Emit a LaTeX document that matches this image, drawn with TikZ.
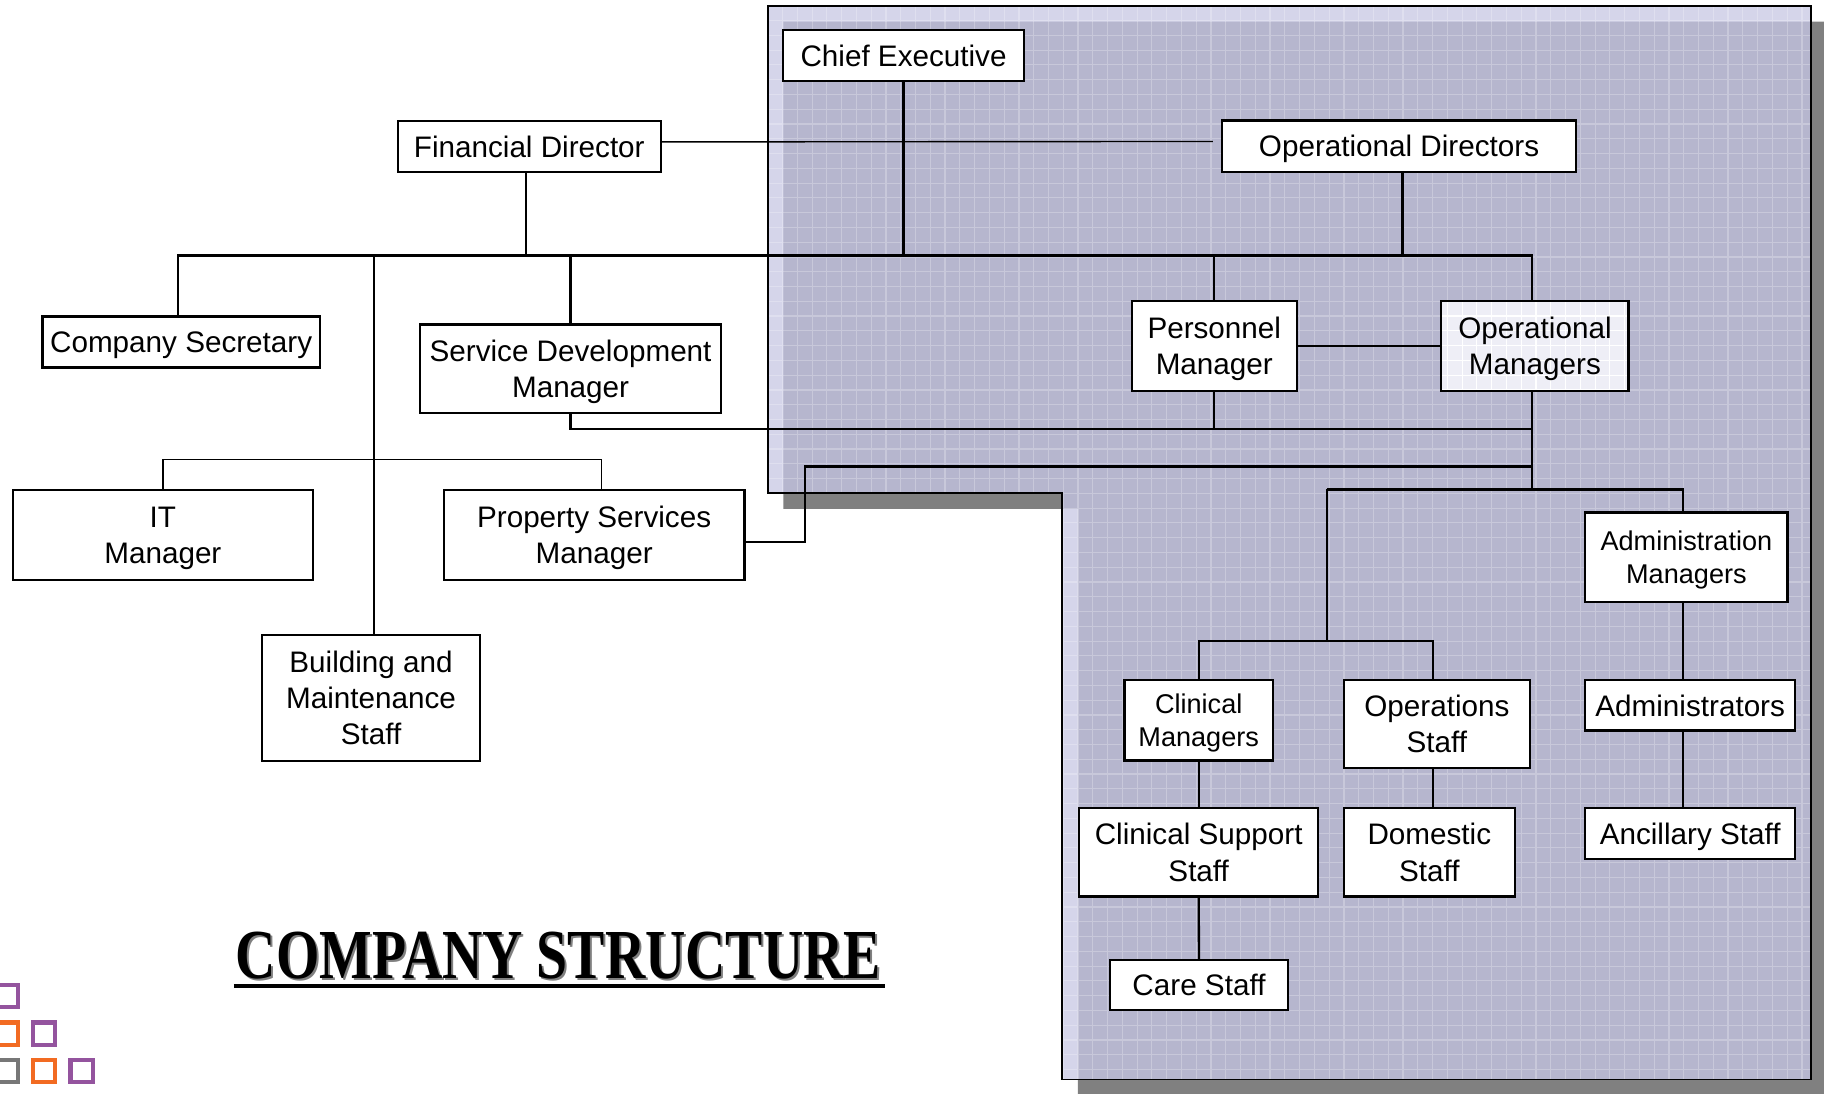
\documentclass[tikz,border=0pt]{standalone}
\usepackage{fontspec}
\setmainfont{Liberation Sans}
\newfontfamily\titlefont{Liberation Serif}
\definecolor{bgdark}{HTML}{B6B6CE}
\definecolor{bglight}{HTML}{D5D5EA}
\definecolor{shadowgray}{HTML}{808080}
\definecolor{omfill}{HTML}{EEEEF6}
\definecolor{logopurple}{HTML}{94549E}
\definecolor{logoorange}{HTML}{F26B22}
\definecolor{logogray}{HTML}{777777}
\newcommand\strN{\rule[-6.35pt]{0pt}{31pt}}
\newcommand\strS{\rule[-6.15pt]{0pt}{29pt}}
\begin{document}
\begin{tikzpicture}[x=1pt,y=-1pt,
  box/.style={draw, line width=2pt, fill=white, inner sep=0pt, align=center,
    font=\fontsize{25.5}{31}\selectfont},
  boxs/.style={box, font=\fontsize{23.3}{29}\selectfont},
  conn/.style={line width=2pt},
  connmid/.style={line width=1.6pt},
  connthin/.style={line width=1.2pt},
  logosq/.style={line width=3.7pt}]
\useasboundingbox (0,0) rectangle (1568,940);
\clip (0,0) rectangle (1568,940);

% background L-shaped panel
\fill[shadowgray, shift={(13.5,13.5)}] (660,5) -- (1557,5) -- (1557,928) -- (913,928) -- (913,424) -- (660,424) -- cycle;
\fill[bglight] (660,5) -- (1557,5) -- (1557,928) -- (913,928) -- (913,424) -- (660,424) -- cycle;
\begin{scope}
  \clip (660,5) -- (1557,5) -- (1557,928) -- (913,928) -- (913,424) -- (660,424) -- cycle;
  \fill[bgdark, shift={(13.5,13.5)}] (660,5) -- (1557,5) -- (1557,928) -- (913,928) -- (913,424) -- (660,424) -- cycle;
  \begin{scope}[shift={(660,5)}]
    \draw[white, opacity=0.25, line width=1pt, step=12.7pt] (0,0) grid (900,925);
  \end{scope}
\end{scope}
\draw[line width=1.5pt] (660,5) -- (1557,5) -- (1557,928) -- (913,928) -- (913,424) -- (660,424) -- cycle;

% light fill of Operational Managers box
\fill[omfill] (1239,259) rectangle (1400,336);
\begin{scope}
  \clip (1239,259) rectangle (1400,336);
  \begin{scope}[shift={(660,5)}]
    \draw[white, line width=1pt, step=12.7pt] (0,0) grid (900,925);
  \end{scope}
\end{scope}

% nodes
\node[box, minimum width=207.5pt, minimum height=43.5pt] (ce) at (776.75,47.75) {\strN Chief Executive};
\node[box, minimum width=226pt, minimum height=44pt] (fd) at (455,126) {\strN Financial Director};
\node[box, minimum width=304pt, minimum height=44pt] (od) at (1202.7,125.6) {\strN Operational Directors};
\node[box, minimum width=238.5pt, minimum height=44pt] (cs) at (155.75,294) {\strN Company Secretary};
\node[box, minimum width=259pt, minimum height=76pt] (sdm) at (490.5,317) {\strN Service Development\\\strN Manager};
\node[box, minimum width=141.7pt, minimum height=77pt] (pm) at (1043.85,297.5) {\strN Personnel\\\strN Manager};
\node[box, fill=none, minimum width=161pt, minimum height=77pt] (om) at (1319.5,297.5) {\strN Operational\\\strN Managers};
\node[box, minimum width=258pt, minimum height=77.2pt] (it) at (140,460.1) {\strN IT\\\strN Manager};
\node[box, minimum width=258.5pt, minimum height=77.2pt] (psm) at (510.75,460.1) {\strN Property Services\\\strN Manager};
\node[box, minimum width=187pt, minimum height=108.6pt] (bms) at (319,600.1) {\strN Building and\\\strN Maintenance\\\strN Staff};
\node[boxs, minimum width=174pt, minimum height=77pt] (am) at (1449.7,479.15) {\strS Administration\\\strS Managers};
\node[boxs, minimum width=127.5pt, minimum height=69pt] (cm) at (1030.45,619.25) {\strS Clinical\\\strS Managers};
\node[box, minimum width=160pt, minimum height=75.7pt] (ops) at (1235.2,622.55) {\strN Operations\\\strN Staff};
\node[box, minimum width=180.5pt, minimum height=43.3pt] (adm) at (1452.95,606.35) {\strN Administrators};
\node[box, minimum width=205.5pt, minimum height=75.8pt] (css) at (1030.45,732.7) {\strN Clinical Support\\\strN Staff};
\node[box, minimum width=147pt, minimum height=75.8pt] (dom) at (1228.7,732.7) {\strN Domestic\\\strN Staff};
\node[box, minimum width=180.5pt, minimum height=43.5pt] (anc) at (1452.95,716.55) {\strN Ancillary Staff};
\node[box, minimum width=153pt, minimum height=43pt] (care) at (1030.7,846.95) {\strN Care Staff};

% connectors
\coordinate (busR) at (1316.7,219.5);
\coordinate (csN) at ([xshift=-2.75pt]cs.north);
\coordinate (omN) at ([xshift=-2.8pt]om.north);
\draw[conn] (csN) |- (busR) -- (omN);
\coordinate (fdS) at ([xshift=-3pt]fd.south);
\draw[connmid] (fdS) -- (fdS |- busR);
\draw[conn] (ce.south) -- (ce.south |- busR);
\coordinate (odS) at ([xshift=3pt]od.south);
\draw[conn] (odS) -- (odS |- busR);
\draw[conn] (pm.north) -- (pm.north |- busR);
\draw[conn] (sdm.north) -- (sdm.north |- busR);
\coordinate (bmsN) at ([xshift=2.5pt]bms.north);
\draw[connthin] (bmsN) -- (bmsN |- busR);
\coordinate (fdE) at ([yshift=4pt]fd.east);
\coordinate (odW) at ([xshift=-7pt,yshift=4pt]od.west);
\draw[connthin] (fdE) -- (odW);
\coordinate (brk) at (0,395);
\coordinate (psmN) at ([xshift=6.25pt]psm.north);
\draw[connthin] (it.north) -- (it.north |- brk) -- (psmN |- brk) -- (psmN);
\draw[conn] (pm.east) -- (om.west);
\coordinate (j369) at (1316.7,369);
\coordinate (j401) at (1316.7,401);
\coordinate (j421) at (1316.7,420.7);
\coordinate (omS) at ([xshift=-2.8pt]om.south);
\draw[conn] (omS) -- (j421);
\draw[conn] (sdm.south) |- (j369);
\draw[conn] (pm.south) -- (pm.south |- j369);
\coordinate (psmE) at ([yshift=-5.9pt]psm.east);
\coordinate (kink) at (692,401);
\draw[conn] (psmE) -| (kink) -- (j401);
\coordinate (bl) at (1140.7,420.7);
\coordinate (amN) at ([xshift=-3pt]am.north);
\draw[conn] (bl) -- (amN |- bl) -- (amN);
\coordinate (b2) at (1140.7,551);
\draw[conn] (bl) -- (b2);
\coordinate (opsN) at ([xshift=-3.5pt]ops.north);
\draw[conn] (cm.north) |- (b2) -| (opsN);
\draw[conn] (cm.south) -- (css.north);
\draw[conn] (css.south) -- (care.north);
\coordinate (opsS) at ([xshift=-3.5pt]ops.south);
\draw[conn] (opsS) -- (opsS |- dom.north);
\coordinate (amS) at ([xshift=-3pt]am.south);
\draw[conn] (amS) -- (amS |- adm.north);
\coordinate (admS) at ([xshift=-6.25pt]adm.south);
\draw[conn] (admS) -- (admS |- anc.north);

% title
\node[anchor=base west, inner sep=0pt, text=gray] (titsh) at (204.3,843.3)
  {\titlefont\bfseries\fontsize{60.4}{62}\selectfont\scalebox{0.794}[1]{COMPANY STRUCTURE}};
\node[anchor=base west, inner sep=0pt] (tit) at (202.5,841.5)
  {\titlefont\bfseries\fontsize{60.4}{62}\selectfont\scalebox{0.794}[1]{COMPANY STRUCTURE}};
\draw[line width=3pt] (201,847.5) -- (761,847.5);

% logo squares
\draw[logosq, logopurple] (-4.05,846.55) rectangle (15.25,865.85);
\draw[logosq, logoorange] (-4.05,878.85) rectangle (15.25,898.15);
\draw[logosq, logopurple] (28.25,878.85) rectangle (47.55,898.15);
\draw[logosq, logogray] (-4.05,910.95) rectangle (15.25,930.25);
\draw[logosq, logoorange] (28.25,910.95) rectangle (47.55,930.25);
\draw[logosq, logopurple] (60.55,910.95) rectangle (79.85,930.25);
\end{tikzpicture}
\end{document}
